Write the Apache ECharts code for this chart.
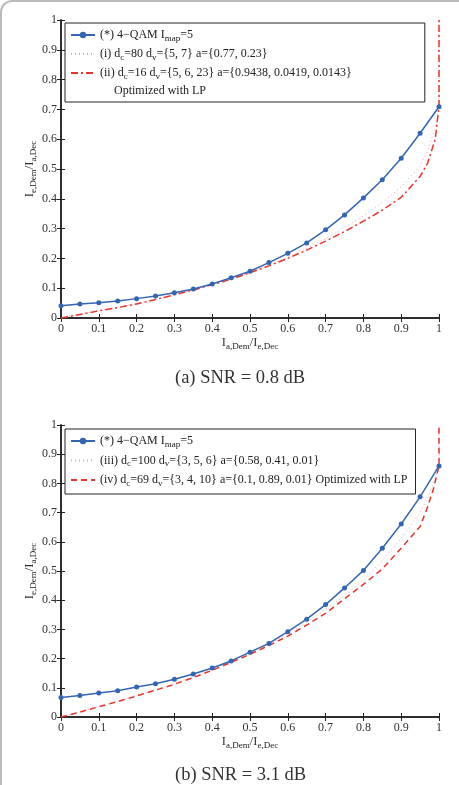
<!DOCTYPE html>
<html>
<head>
<meta charset="utf-8">
<script src="https://cdn.jsdelivr.net/npm/echarts@6/dist/echarts.min.js"></script>
<style>
  html, body { margin: 0; padding: 0; background: #fff; }
  #frame {
    position: absolute; left: 0; top: 0; width: 459px; height: 785px;
    box-sizing: border-box; border-left: 2px solid #bbb; border-top: 2px solid #bbb;
    border-top-left-radius: 12px;
  }
  #chart { position: absolute; left: 0; top: 0; width: 459px; height: 785px; }
</style>
</head>
<body>
<div id="frame"></div>
<div id="chart"></div>
<script>
  // sample points of the 4-QAM demapper curve (markers every 0.05)
  const qamX = [0, 0.05, 0.1, 0.15, 0.2, 0.25, 0.3, 0.35, 0.4, 0.45, 0.5,
    0.55, 0.6, 0.65, 0.7, 0.75, 0.8, 0.85, 0.9, 0.95, 1];
  const qamA = [0.041, 0.047, 0.051, 0.057, 0.065, 0.074, 0.085, 0.097, 0.114, 0.135, 0.157,
    0.186, 0.217, 0.252, 0.296, 0.346, 0.403, 0.464, 0.536, 0.620, 0.709];
  const qamB = [0.067, 0.074, 0.082, 0.090, 0.103, 0.114, 0.129, 0.147, 0.168, 0.192, 0.222,
    0.252, 0.292, 0.335, 0.385, 0.442, 0.502, 0.578, 0.661, 0.754, 0.860];

  // decoder curves (a): SNR = 0.8 dB
  const codeXA = [0, 0.05, 0.1, 0.15, 0.2, 0.25, 0.3, 0.35, 0.4, 0.45, 0.5, 0.55,
    0.6, 0.65, 0.7, 0.75, 0.8, 0.85, 0.9, 0.95, 0.97, 0.99, 1, 1];
  const codeI = [0, 0.012, 0.025, 0.036, 0.048, 0.063, 0.079, 0.095, 0.113, 0.132, 0.153, 0.177,
    0.204, 0.234, 0.267, 0.303, 0.343, 0.388, 0.44, 0.51, 0.56, 0.64, 0.71, 1];
  const codeII = [0, 0.012, 0.024, 0.035, 0.047, 0.062, 0.078, 0.094, 0.112, 0.13, 0.152, 0.175,
    0.2, 0.228, 0.258, 0.29, 0.325, 0.362, 0.405, 0.475, 0.52, 0.6, 0.71, 1];

  // decoder curves (b): SNR = 3.1 dB
  const codeXB = [0, 0.05, 0.1, 0.15, 0.2, 0.25, 0.3, 0.35, 0.4, 0.45, 0.5, 0.55,
    0.6, 0.65, 0.7, 0.75, 0.8, 0.85, 0.9, 0.95, 0.97, 0.985, 1, 1];
  const codeIII = [0, 0.018, 0.036, 0.055, 0.074, 0.094, 0.115, 0.138, 0.163, 0.19, 0.22, 0.25,
    0.285, 0.325, 0.368, 0.415, 0.47, 0.535, 0.612, 0.7, 0.75, 0.8, 0.865, 1];
  const codeIV = [0, 0.017, 0.035, 0.053, 0.072, 0.092, 0.112, 0.135, 0.16, 0.187, 0.215, 0.245,
    0.277, 0.315, 0.355, 0.405, 0.454, 0.507, 0.578, 0.652, 0.72, 0.78, 0.86, 1];

  const legendText = {
    a0: "(*) 4\u2212QAM I{s|map}=5",
    a1: "(i) d{s|c}=80 d{s|v}={5, 7} a={0.77, 0.23}",
    a2: "(ii) d{s|c}=16 d{s|v}={5, 6, 23} a={0.9438, 0.0419, 0.0143}",
    b0: "(*) 4\u2212QAM I{s|map}=5",
    b1: "(iii) d{s|c}=100 d{s|v}={3, 5, 6} a={0.58, 0.41, 0.01}",
    b2: "(iv) d{s|c}=69 d{s|v}={3, 4, 10} a={0.1, 0.89, 0.01} Optimized with LP",
  };
  const captions = ["(a) SNR = 0.8 dB", "(b) SNR = 3.1 dB"];

  const serif = "Liberation Serif";
  const blue = "#3565b0";
  const red = "#e5352c";
  const pink = "#f2a3a3";
  const pairs = (xs, ys) => xs.map((x, i) => [x, ys[i]]);

  const richSub = {
    s: { fontFamily: serif, fontSize: 9, color: "#222", padding: [7, 0, 0, 0] },
  };

  function grids(top, height) {
    return { left: 61, top: top, width: 378, height: height };
  }

  function xAxes(gi) {
    const common = {
      type: "value", gridIndex: gi, min: 0, max: 1, interval: 0.1,
      splitLine: { show: false },
      axisLine: { lineStyle: { color: "#222", width: 1.5 } },
      axisTick: { inside: true, length: 4, lineStyle: { color: "#222" } },
    };
    return [
      Object.assign({}, common, {
        position: "bottom",
        axisLabel: { fontFamily: serif, fontSize: 12, color: "#333", margin: 5 },
        name: "I{s|a,Dem}/I{s|e,Dec}",
        nameLocation: "middle",
        nameGap: 17,
        nameTextStyle: { fontFamily: serif, fontSize: 12.5, color: "#333", rich: richSub },
      }),
      Object.assign({}, common, { position: "top", axisLabel: { show: false } }),
    ];
  }

  function yAxes(gi) {
    const common = {
      type: "value", gridIndex: gi, min: 0, max: 1, interval: 0.1,
      splitLine: { show: false },
      axisLine: { lineStyle: { color: "#222", width: 1.5 } },
      axisTick: { inside: true, length: 4, lineStyle: { color: "#222" } },
    };
    return [
      Object.assign({}, common, {
        position: "left",
        axisLabel: { fontFamily: serif, fontSize: 12, color: "#333", margin: 4 },
        name: "I{s|e,Dem}/I{s|a,Dec}",
        nameLocation: "middle",
        nameGap: 23,
        nameMoveOverlap: false,
        nameTextStyle: { fontFamily: serif, fontSize: 12.5, color: "#333", rich: richSub },
      }),
      Object.assign({}, common, { position: "right", axisLabel: { show: false } }),
    ];
  }

  function legendBox(names, top, gap, padding) {
    return {
      orient: "vertical",
      left: 65,
      top: top,
      data: names.map((n, i) => (i === 0 ? n : { name: n, itemStyle: { opacity: 0 } })),
      itemWidth: 24,
      itemHeight: 8,
      itemGap: gap,
      padding: padding,
      borderColor: "#222",
      borderWidth: 1,
      backgroundColor: "#fff",
      borderRadius: 0,
      selectedMode: false,
      formatter: (name) => legendText[name],
      textStyle: { fontFamily: serif, fontSize: 12, color: "#222", rich: richSub },
    };
  }

  const captionStyle = { fontFamily: serif, fontSize: 18.5, fontWeight: "normal", color: "#333" };

  const chart = echarts.init(document.getElementById("chart"));
  chart.setOption({
    animation: false,
    grid: [grids(20, 298), grids(425, 292)],
    xAxis: xAxes(0).concat(xAxes(1)),
    yAxis: yAxes(0).concat(yAxes(1)),
    legend: [
      legendBox(["a0", "a1", "a2"], 23, 5, [6, 73, 21, 5]),
      legendBox(["b0", "b1", "b2"], 429, 5.5, [6, 8, 6, 5]),
    ],
    title: [
      { text: captions[0], left: 175, top: 369, padding: 0, textStyle: captionStyle },
      { text: captions[1], left: 175, top: 766, padding: 0, textStyle: captionStyle },
    ],
    graphic: [
      { type: "text", left: 114, top: 85, z: 100,
        style: { text: "Optimized with LP", font: "12px " + serif, fill: "#222" } },
    ],
    series: [
      { name: "a0", type: "line", xAxisIndex: 0, yAxisIndex: 0, data: pairs(qamX, qamA),
        symbol: "circle", symbolSize: 5, color: blue, lineStyle: { width: 1.5 }, z: 4 },
      { name: "a1", type: "line", xAxisIndex: 0, yAxisIndex: 0, data: pairs(codeXA, codeI),
        showSymbol: false, symbol: "none", color: pink, clip: false,
        lineStyle: { width: 1, type: [1, 3] }, z: 2 },
      { name: "a2", type: "line", xAxisIndex: 0, yAxisIndex: 0, data: pairs(codeXA, codeII),
        showSymbol: false, symbol: "none", color: red, clip: false,
        lineStyle: { width: 1.5, type: [7, 3, 2, 3] }, z: 3 },
      { name: "b0", type: "line", xAxisIndex: 2, yAxisIndex: 2, data: pairs(qamX, qamB),
        symbol: "circle", symbolSize: 5, color: blue, lineStyle: { width: 1.5 }, z: 4 },
      { name: "b1", type: "line", xAxisIndex: 2, yAxisIndex: 2, data: pairs(codeXB, codeIII),
        showSymbol: false, symbol: "none", color: pink, clip: false,
        lineStyle: { width: 1, type: [1, 3] }, z: 2 },
      { name: "b2", type: "line", xAxisIndex: 2, yAxisIndex: 2, data: pairs(codeXB, codeIV),
        showSymbol: false, symbol: "none", color: red, clip: false,
        lineStyle: { width: 1.5, type: [6, 4] }, z: 3 },
    ],
  });
</script>
</body>
</html>
